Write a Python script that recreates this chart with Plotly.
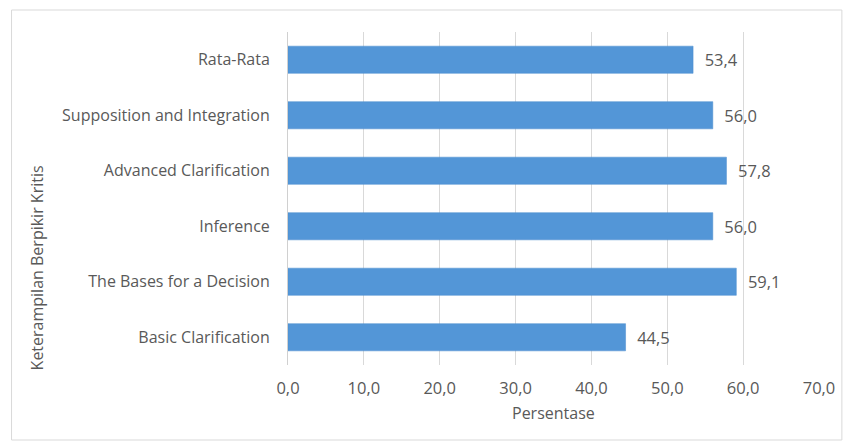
import plotly.graph_objects as go

categories = [
    "Basic Clarification",
    "The Bases for a Decision",
    "Inference",
    "Advanced Clarification",
    "Supposition and Integration",
    "Rata-Rata",
]
values = [44.5, 59.1, 56.0, 57.8, 56.0, 53.4]
x_ticks = [0, 10, 20, 30, 40, 50, 60, 70]
x_title = "Persentase"
y_title = "Keterampilan Berpikir Kritis"

W, H = 847, 443
ml, mr, mt, mb = 288, 25, 32, 78
pw, ph = W - ml - mr, H - mt - mb

def px_x(x):
    return (x - ml) / pw

def px_y(y):
    return (H - mb - y) / ph

FONT = "Open Sans"
TXT = "#595959"

fig = go.Figure()
fig.add_trace(go.Bar(
    y=categories,
    x=values,
    orientation="h",
    width=0.49,
    marker=dict(color="#5396d7", line=dict(color="#4a8ccf", width=0.5)),
    texttemplate="  %{x:.1f}",
    textposition="outside",
    textfont=dict(family=FONT, size=16.5, color=TXT),
    cliponaxis=False,
    hoverinfo="skip",
))

fig.update_layout(
    width=W, height=H,
    margin=dict(l=ml, r=mr, t=mt, b=mb, pad=0),
    paper_bgcolor="white",
    plot_bgcolor="white",
    separators=",.",
    showlegend=False,
    font=dict(family=FONT, size=16, color=TXT),
    xaxis=dict(
        range=[0, 70],
        tickvals=x_ticks,
        tickformat=".1f",
        showgrid=True,
        gridcolor="#d9d9d9",
        gridwidth=1,
        zeroline=False,
        showline=False,
        ticks="outside",
        ticklen=8,
        tickcolor="rgba(0,0,0,0)",
        tickfont=dict(family=FONT, size=16.5, color=TXT),
        fixedrange=True,
    ),
    yaxis=dict(
        showline=True,
        linecolor="#d0d0d0",
        linewidth=1,
        showgrid=False,
        ticks="outside",
        ticklen=14,
        tickcolor="rgba(0,0,0,0)",
        tickfont=dict(family=FONT, size=16, color=TXT),
        fixedrange=True,
    ),
    bargap=0.51,
)

fig.add_annotation(
    x=px_x(555), y=px_y(413), xref="paper", yref="paper",
    text=x_title, showarrow=False,
    font=dict(family=FONT, size=16, color=TXT),
    xanchor="center", yanchor="middle",
)
fig.add_annotation(
    x=px_x(36), y=px_y(268), xref="paper", yref="paper",
    text=y_title, showarrow=False, textangle=-90,
    font=dict(family=FONT, size=16, color=TXT),
    xanchor="center", yanchor="middle",
)
fig.add_shape(
    type="rect", xref="paper", yref="paper",
    x0=px_x(10), x1=px_x(845), y0=px_y(440), y1=px_y(10),
    line=dict(color="#d9d9d9", width=1), fillcolor="rgba(0,0,0,0)",
    layer="below",
)

fig.write_html(
    "out.html",
    config={"displayModeBar": False},
    post_script="document.body.style.margin='0';document.body.style.padding='0';",
)
